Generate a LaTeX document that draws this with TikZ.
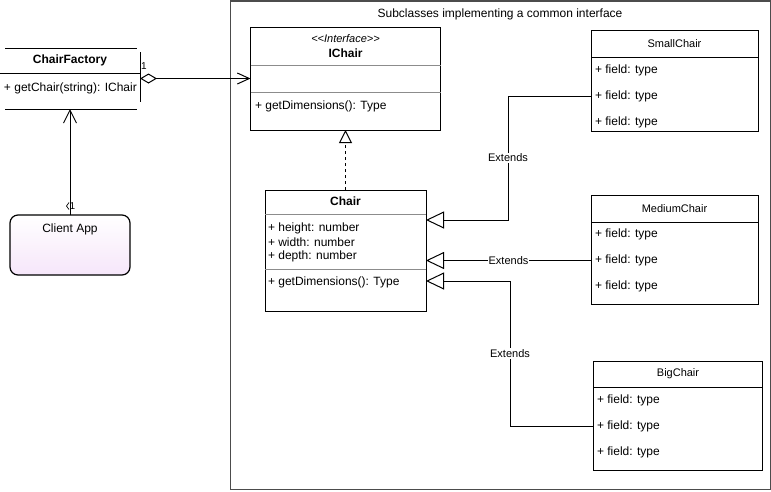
\documentclass[tikz,border=0pt]{standalone}
\usepackage{fontspec}
\setmainfont{Liberation Sans}
\usetikzlibrary{arrows.meta}
\begin{document}
\begin{tikzpicture}[x=1pt,y=-1pt,
  every node/.style={inner sep=0pt, outer sep=0pt},
  txt/.style={font=\fontsize{12}{14}\selectfont},
  txtb/.style={font=\fontsize{12}{14}\selectfont\bfseries},
  txti/.style={font=\fontsize{11}{13}\selectfont\itshape},
  small/.style={font=\fontsize{11}{13}\selectfont},
  tiny/.style={font=\fontsize{10}{12}\selectfont},
  box/.style={draw=black, line width=1pt, fill=white},
  sep/.style={draw=black!45, line width=1pt},
  hsep/.style={draw=black, line width=1pt},
  line/.style={draw=black, line width=1pt},
  extends/.style={line, -{Triangle[open,length=18pt,width=17pt,fill=white]}},
  lbl/.style={small, fill=white, inner sep=1pt}
]
\useasboundingbox (0,0) rectangle (771,491);

% container of the subclasses
\node[draw=black!70, line width=1.3pt, minimum width=539.5, minimum height=488.5,
      anchor=north west] (frame) at (230.75,1) {};
\node[txt] (ftitle) at (500,14.5) {Subclasses implementing a common interface};

% ChairFactory (open table style)
\node[minimum width=140, minimum height=61, anchor=north west] (cf) at (0,48) {};
\draw[line] (5,48) -- (137,48);
\draw[line] (0,73) -- (140,73);
\draw[line] (5,109) -- (137,109);
\draw[line] (140,52) -- (140,102);
\node[txtb] (cftitle) at (70,60) {ChairFactory};
\node[txt, anchor=west] (cfm) at (4,88) {+ getChair(string): IChair};

% Client App
\node[draw=black, line width=1.2pt, rounded corners=8pt, top color=white,
      bottom color={rgb,255:red,246;green,230;blue,250},
      minimum width=120, minimum height=60, anchor=north west] (client) at (10,215) {};
\node[txt] (clienttxt) at (70,229) {Client App};

% IChair interface
\node[box, minimum width=190, minimum height=103, anchor=north west] (ichair) at (250.5,27) {};
\draw[sep] (ichair.west |- 0,65.5) -- (ichair.east |- 0,65.5);
\draw[sep] (ichair.west |- 0,92) -- (ichair.east |- 0,92);
\node[txti] (istereo) at (345.5,38.5) {<\kern0pt<Interface>\kern0pt>};
\node[txtb] (ititle) at (345.5,53) {IChair};
\node[txt, anchor=west] (imeth) at (255,106) {+ getDimensions(): Type};

% Chair class
\node[box, minimum width=161, minimum height=121, anchor=north west] (chair) at (265,190) {};
\draw[sep] (chair.west |- 0,214) -- (chair.east |- 0,214);
\draw[sep] (chair.west |- 0,269) -- (chair.east |- 0,269);
\node[txtb] (ctitle) at (345.5,201) {Chair};
\node[txt, anchor=west] (ca1) at (268,228) {+ height: number};
\node[txt, anchor=west] (ca2) at (268,242) {+ width: number};
\node[txt, anchor=west] (ca3) at (268,256) {+ depth: number};
\node[txt, anchor=west] (cmeth) at (268,282.5) {+ getDimensions(): Type};

% SmallChair
\node[box, minimum width=167, minimum height=101, anchor=north west] (small) at (591,30) {};
\draw[hsep] (small.west |- 0,57) -- (small.east |- 0,57);
\node[small] (stitle) at (674.5,44) {SmallChair};
\node[txt, anchor=west] (sf1) at (595,70) {+ field: type};
\node[txt, anchor=west] (sf2) at (595,96) {+ field: type};
\node[txt, anchor=west] (sf3) at (595,122) {+ field: type};

% MediumChair
\node[box, minimum width=167, minimum height=109, anchor=north west] (medium) at (591,195) {};
\draw[hsep] (medium.west |- 0,222) -- (medium.east |- 0,222);
\node[small] (mtitle) at (674.5,209) {MediumChair};
\node[txt, anchor=west] (mf1) at (595,234.5) {+ field: type};
\node[txt, anchor=west] (mf2) at (595,260.5) {+ field: type};
\node[txt, anchor=west] (mf3) at (595,286.5) {+ field: type};

% BigChair
\node[box, minimum width=169, minimum height=109, anchor=north west] (big) at (593.5,361) {};
\draw[hsep] (big.west |- 0,387) -- (big.east |- 0,387);
\node[small] (btitle) at (678,374) {BigChair};
\node[txt, anchor=west] (bf1) at (597,400) {+ field: type};
\node[txt, anchor=west] (bf2) at (597,426) {+ field: type};
\node[txt, anchor=west] (bf3) at (597,452) {+ field: type};

% connectors
\draw[line, {Diamond[open,length=17pt,width=10pt,fill=white]}-{Straight Barb[length=12pt,width=11pt]}]
  (cf.east) -- (ichair.west);
\node[tiny] (mult1) at (144,66) {1};

\draw[line, -{Straight Barb[length=13pt,width=13pt]}] (client.north) -- (cf.south);
\node[tiny] (mult2) at (72.5,206) {1};
\draw[line width=0.7pt] (69,202.5) -- (66.5,206) -- (69,209.5);

\draw[line, dash pattern=on 3pt off 3pt, -{Triangle[open,length=13pt,width=13pt,fill=white]}]
  (chair.north) -- (ichair.south);

\coordinate (k1) at (508,220);
\coordinate (k3) at (510,281);
\draw[extends] (small.west |- sf2) -| (k1) node[lbl, pos=0.75] {Extends} -- (chair.east |- k1);
\draw[extends] (medium.west |- mf2) -- (chair.east |- mf2) node[lbl, midway] {Extends};
\draw[extends] (big.west |- bf2) -| (k3) node[lbl, pos=0.75] {Extends} -- (chair.east |- k3);
\end{tikzpicture}
\end{document}
